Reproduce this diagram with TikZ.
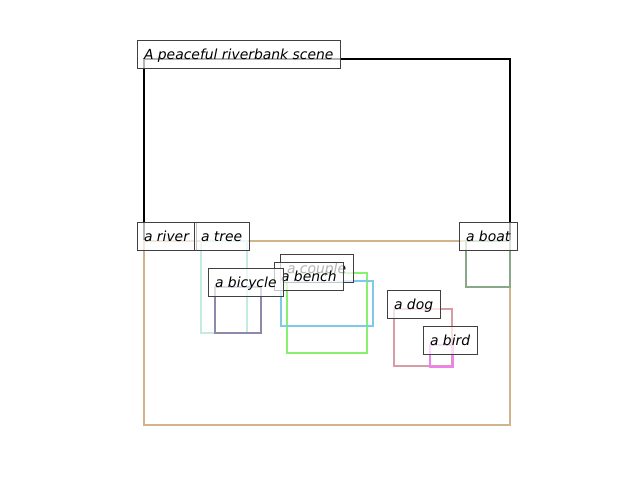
\documentclass[tikz,border=0pt]{standalone}
\usepackage{fontspec}
\setmainfont{DejaVu Sans}
\definecolor{riverc}{HTML}{D2B48C}
\definecolor{treec}{HTML}{C4EAE2}
\definecolor{bicyclec}{HTML}{8E88AC}
\definecolor{couplec}{HTML}{88F070}
\definecolor{benchc}{HTML}{7EC8E8}
\definecolor{boatc}{HTML}{88A888}
\definecolor{dogc}{HTML}{D89CA4}
\definecolor{birdc}{HTML}{F080F0}
\begin{document}
\begin{tikzpicture}[x=1pt, y=-1pt, every node/.style={font=\fontsize{13.9}{16}\selectfont\itshape},
  box/.style={line width=2.9pt},
  lab/.style={draw=black!75, line width=0.8pt, fill=white, fill opacity=0.7, text opacity=1, anchor=text,
    inner xsep=7pt, inner ysep=0pt, text height=19pt, text depth=9pt}]
\useasboundingbox (0,0) rectangle (640,480);

% boxes
\draw[box, black, line width=2.2pt] (144,59) rectangle (510,425);
\draw[box, riverc] (144,241) rectangle (510,425);
\draw[box, treec] (201,241) rectangle (247,333);
\draw[box, bicyclec] (215,287) rectangle (261,333);
\draw[box, couplec] (287,273) rectangle (367,353);
\draw[box, benchc] (281,281) rectangle (373,326);
\draw[box, boatc] (466,241) rectangle (510,287);
\draw[box, dogc] (394,309) rectangle (452,366);
\draw[box, birdc] (430,345) rectangle (453,367);

% labels
\node[lab] (scene) at (144,59) {A peaceful riverbank scene};
\node[lab] (river) at (144,241) {a river};
\node[lab] (tree) at (201,241) {a tree};
\node[lab] (couple) at (287,273) {a couple};
\node[lab] (bench) at (281,281) {a bench};
\node[lab] (bicycle) at (215,287) {a bicycle};
\node[lab] (boat) at (466,241) {a boat};
\node[lab] (dog) at (394,309) {a dog};
\node[lab] (bird) at (430,345) {a bird};
\end{tikzpicture}
\end{document}
